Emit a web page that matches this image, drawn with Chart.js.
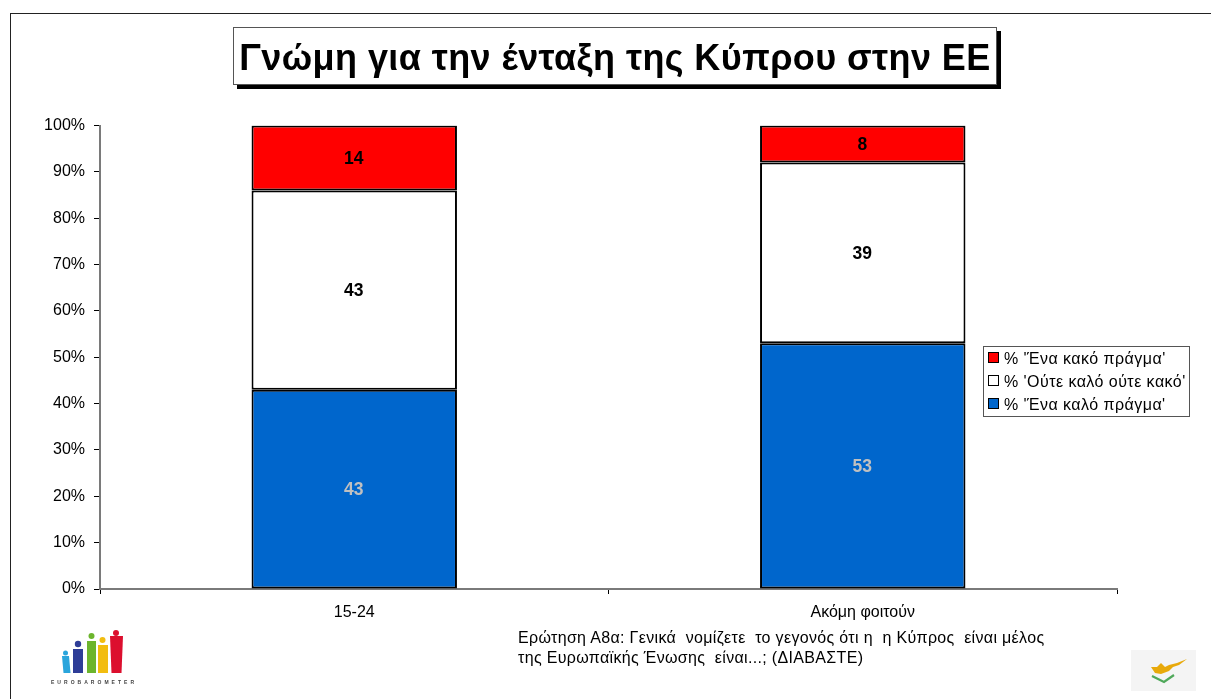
<!DOCTYPE html>
<html><head><meta charset="utf-8">
<script src="https://cdn.jsdelivr.net/npm/chart.js@4/dist/chart.umd.min.js"></script>
<style>
html,body{margin:0;padding:0;background:#fff;width:1211px;height:699px;overflow:hidden;font-family:"Liberation Sans",Arial,sans-serif;color:#000}
#wrap{position:relative;width:1211px;height:699px}
canvas{position:absolute;left:0;top:0}
#frame{position:absolute;left:10px;top:12.500px;width:1201px;height:687px;border-left:1.5px solid #222;border-top:1.5px solid #222;box-sizing:border-box}
#title{position:absolute;left:233px;top:27px;width:764px;height:58px;box-sizing:border-box;border:1px solid #555;box-shadow:4px 4px 0 #000;background:#fff;font-weight:bold;font-size:36px;letter-spacing:.42px;line-height:60px;text-align:center;white-space:nowrap}
#legend{position:absolute;left:983px;top:346px;width:207px;height:71px;box-sizing:border-box;border:1px solid #555;background:#fff;font-size:16px;padding-top:0}
#legend div{height:23px;line-height:23px;white-space:nowrap;position:relative;padding-left:20px;letter-spacing:.45px}
#legend i{position:absolute;left:4px;top:5px;width:9px;height:9px;border:1.5px solid #000;box-sizing:content-box}
#note{position:absolute;left:518px;top:628px;font-size:16px;line-height:20px;white-space:pre;letter-spacing:.33px}
svg{position:absolute}
</style></head><body>
<div id="wrap">
<canvas id="c" width="1211" height="699"></canvas>
<div id="frame"></div>
<div id="title"></div>
<div id="legend"></div>
<div id="note"></div>
<svg style="left:48px;top:625px;filter:blur(.5px)" width="90" height="65" viewBox="0 0 90 65">
<g stroke="none">
<path d="M14 31h7l1.500 17h-7z" fill="#2aa5dc"/><circle cx="17.500" cy="28" r="2.500" fill="#2aa5dc"/>
<rect x="25" y="24" width="10" height="24" fill="#2e3d97"/><circle cx="30" cy="19" r="3.200" fill="#2e3d97"/>
<rect x="39" y="16" width="9" height="32" fill="#6cb52d"/><circle cx="43.500" cy="11" r="3" fill="#6cb52d"/>
<rect x="50" y="20" width="10" height="28" fill="#f2bd10"/><circle cx="54.500" cy="15" r="3" fill="#f2bd10"/>
<path d="M62 11h13l-1.500 37h-10z" fill="#dc0f2e"/><circle cx="68" cy="8" r="3" fill="#dc0f2e"/>
</g>
<text x="3" y="59" font-size="5" font-weight="bold" fill="#444" textLength="83" font-family="Liberation Sans">EUROBAROMETER</text>
</svg>
<svg style="left:1131px;top:650px;filter:blur(.6px)" width="65" height="41" viewBox="0 0 65 41">
<rect width="65" height="41" fill="#f4f4f4"/>
<path d="M20 17L26 17L30 13L34 17L38 15L46 13L56 9L48 15L42 17L38 21L30 24L24 23z" fill="#e8a90a"/>
<path d="M21 26L33 32L43 25" fill="none" stroke="#4fa85a" stroke-width="2.200"/>
</svg>
</div>
<script>
const categories = ["15-24", "Ακόμη φοιτούν"];
const goodValues = [43, 53];
const neutralValues = [43, 39];
const badValues = [14, 8];
const seriesNames = ["% 'Ένα καλό πράγμα'", "% 'Ούτε καλό ούτε κακό'", "% 'Ένα κακό πράγμα'"];
const seriesColors = ["#0066cc", "#ffffff", "#ff0000"];
const labelColors = ["#c0c0c0", "#000000", "#000000"];
const chartTitle = "Γνώμη για την ένταξη της Κύπρου στην ΕΕ";
const noteLines = ["Ερώτηση Α8α: Γενικά  νομίζετε  το γεγονός ότι η  η Κύπρος  είναι μέλος", "της Ευρωπαϊκής Ένωσης  είναι...; (ΔΙΑΒΑΣΤΕ)"];
const FONT = '"Liberation Sans", Arial, sans-serif';

document.getElementById('title').textContent = chartTitle;
document.getElementById('note').textContent = noteLines.join("\n");
const legendEl = document.getElementById('legend');
[2,1,0].forEach(i=>{
  const d=document.createElement('div');
  const s=document.createElement('i'); s.style.background=seriesColors[i];
  d.appendChild(s); d.appendChild(document.createTextNode(seriesNames[i]));
  legendEl.appendChild(d);
});

const valueLabels = {
  id:'valueLabels',
  afterDatasetsDraw(chart){
    const ctx=chart.ctx; ctx.save();
    ctx.font='bold 17.5px '+FONT; ctx.textAlign='center'; ctx.textBaseline='middle';
    chart.data.datasets.forEach((ds,i)=>{
      chart.getDatasetMeta(i).data.forEach((el,j)=>{
        const p=el.getProps(['x','y','base'],true);
        ctx.fillStyle=labelColors[i];
        ctx.fillText(String(ds.data[j]),p.x-0.5,(p.y+p.base)/2+1);
      });
    });
    ctx.restore();
  }
};

new Chart(document.getElementById('c'),{
  type:'bar',
  data:{labels:categories,datasets:[goodValues,neutralValues,badValues].map((v,i)=>({
    label:seriesNames[i],data:v,backgroundColor:seriesColors[i],borderColor:'#000',borderWidth:2,
    barPercentage:.404,categoryPercentage:1,borderSkipped:false
  }))},
  options:{
    responsive:false,animation:false,devicePixelRatio:1,
    layout:{padding:{left:0,right:94,top:125.5,bottom:70}},
    plugins:{legend:{display:false},title:{display:false},tooltip:{enabled:false}},
    scales:{
      x:{stacked:true,afterFit(s){s.height=40},
        border:{color:'#7a7a7a',width:2},
        grid:{offset:true,drawOnChartArea:false,drawTicks:true,tickLength:5,tickColor:'#000',tickWidth:1},
        ticks:{color:'#000',font:{family:FONT,size:16},padding:9,maxRotation:0}},
      y:{stacked:true,min:0,max:100,afterFit(s){s.width=100},
        border:{color:'#7a7a7a',width:2},
        grid:{drawOnChartArea:false,drawTicks:true,tickLength:6,tickColor:'#000',tickWidth:1},
        ticks:{stepSize:10,color:'#000',font:{family:FONT,size:16},padding:9,callback:v=>v+'%'}}
    }
  },
  plugins:[valueLabels]
});
</script>
</body></html>
